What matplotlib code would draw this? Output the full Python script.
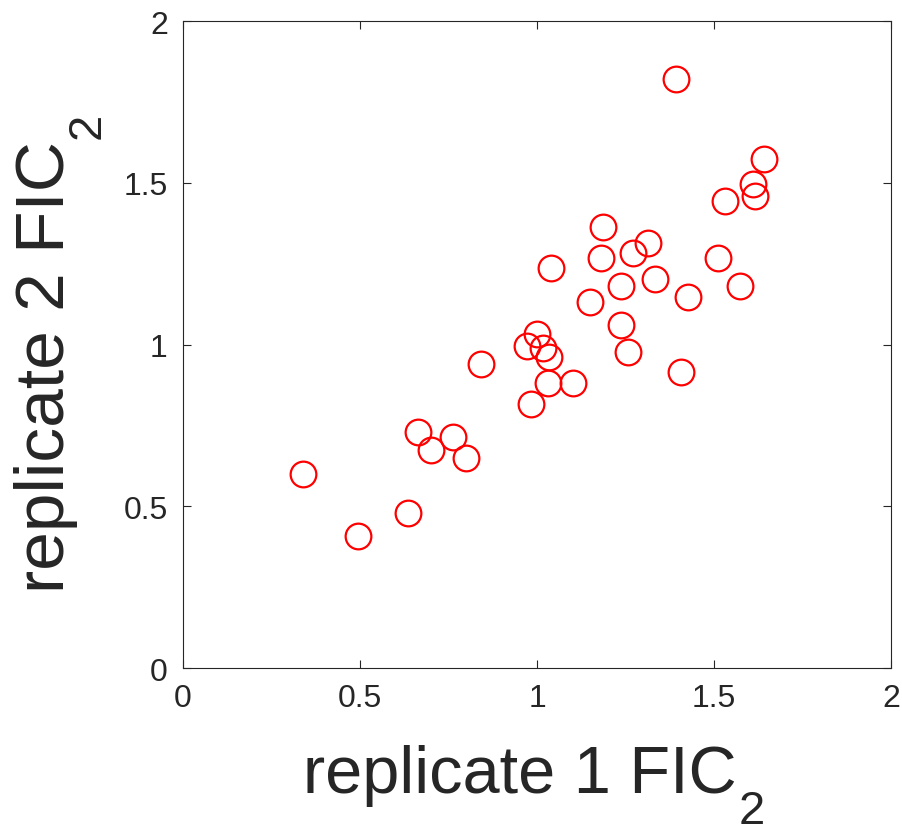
import numpy as np
import matplotlib
matplotlib.use('Agg')
import matplotlib.pyplot as plt

plt.rcParams['font.family'] = ['Liberation Sans', 'DejaVu Sans']

# FIC2 per sample, replicate 1 vs replicate 2
rep1 = [1.392, 1.640, 1.610, 1.616, 1.532, 1.185, 1.179, 1.270, 1.314, 1.038,
        1.510, 1.236, 1.333, 1.574, 1.426, 1.150, 1.236, 1.001, 0.971, 1.017,
        1.033, 1.256, 0.841, 1.405, 1.031, 1.102, 0.983, 0.663, 0.762, 0.699,
        0.798, 0.339, 0.635, 0.494]
rep2 = [1.822, 1.573, 1.495, 1.460, 1.445, 1.363, 1.268, 1.283, 1.315, 1.236,
        1.267, 1.180, 1.203, 1.181, 1.147, 1.130, 1.059, 1.032, 0.994, 0.988,
        0.961, 0.977, 0.940, 0.915, 0.882, 0.881, 0.817, 0.729, 0.713, 0.673,
        0.649, 0.601, 0.480, 0.408]
ticks = [0, 0.5, 1, 1.5, 2]
tick_labels = ['0', '0.5', '1', '1.5', '2']
txt_col = '#262626'

fig = plt.figure(figsize=(9.02, 8.37), dpi=100)
ax = fig.add_axes([0.203, 0.2007, 0.785, 0.773])

ax.plot(rep1, rep2, 'o', ms=18.5, mfc='none', mec='red', mew=1.6, ls='none')

ax.set_xlim(0, 2)
ax.set_ylim(0, 2)
ax.set_xticks(ticks)
ax.set_yticks(ticks)
ax.set_xticklabels(tick_labels)
ax.set_yticklabels(tick_labels)
ax.tick_params(direction='in', length=6, width=0.8, colors=txt_col,
               labelsize=23, top=True, right=True, pad=11)
for s in ax.spines.values():
    s.set_color(txt_col)
    s.set_linewidth(0.8)

# labels with a big subscript tacked on after the main text
xl = ax.set_xlabel('replicate 1 FIC', fontsize=48, color=txt_col, labelpad=22)
yl = ax.set_ylabel('replicate 2 FIC', fontsize=50, color=txt_col, labelpad=33)
xl.set_x(0.476)
yl.set_y(0.467)
ax.annotate('2', xy=(1, 0), xycoords=xl, xytext=(1, 12), textcoords='offset points',
            ha='left', va='top', fontsize=34, color=txt_col, annotation_clip=False)
ax.annotate('2', xy=(1, 1), xycoords=yl, xytext=(-9, 1), textcoords='offset points',
            ha='left', va='bottom', rotation=90, fontsize=34, color=txt_col,
            annotation_clip=False)

fig.savefig('out.png', dpi=100)
